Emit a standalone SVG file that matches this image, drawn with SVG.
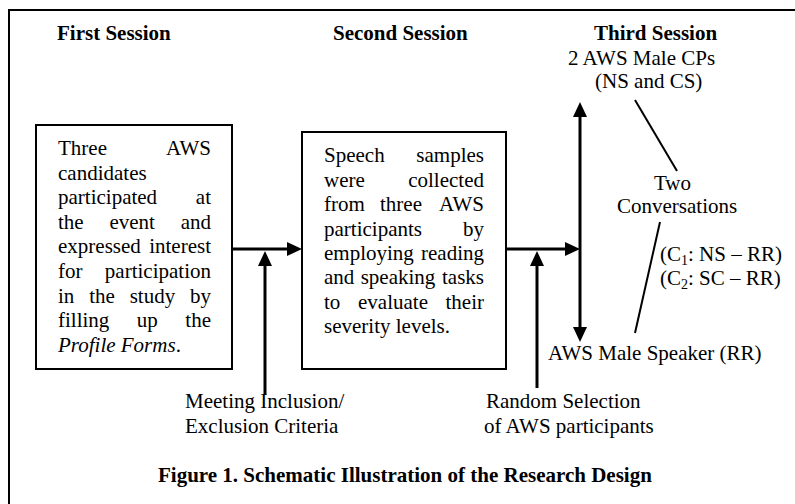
<svg xmlns="http://www.w3.org/2000/svg" width="795" height="504" viewBox="0 0 795 504">
  <style>
    text { font-family: "Liberation Serif", "Times New Roman", serif; font-size: 21px; fill: #000; }
    .h { font-weight: bold; }
    .it { font-style: italic; }
    .e { text-anchor: end; }
    .m { text-anchor: middle; }
    .box { fill: #fff; stroke: #000; stroke-width: 2; }
    .arrow { fill: none; stroke: #000; stroke-width: 3; }
    .link { fill: none; stroke: #000; stroke-width: 2; }
    .sub { font-size: 14px; }
  </style>
  <defs>
    <marker id="head" markerUnits="userSpaceOnUse" markerWidth="16" markerHeight="16" refX="0" refY="7" orient="auto-start-reverse" viewBox="0 0 16 14">
      <path d="M0,0 L15,7 L0,14 Z" fill="#000"/>
    </marker>
  </defs>

  <!-- outer frame -->
  <rect x="9" y="10" width="800" height="510" fill="#fff" stroke="#000" stroke-width="2"/>

  <!-- session headings -->
  <g id="headings">
    <text class="h" x="57" y="40">First Session</text>
    <text class="h" x="333" y="40">Second Session</text>
    <text class="h" x="594" y="40">Third Session</text>
  </g>

  <!-- first session box -->
  <g id="session1">
    <rect class="box" x="36" y="125" width="196" height="244"/>
    <text x="58" y="155">Three</text><text class="e" x="211" y="155">AWS</text>
    <text x="58" y="179.6">candidates</text>
    <text x="58" y="204.2">participated</text><text class="e" x="211" y="204.2">at</text>
    <text x="58" y="228.8">the</text><text class="m" x="132.2" y="228.8">event</text><text class="e" x="211" y="228.8">and</text>
    <text x="58" y="253.4">expressed</text><text class="e" x="211" y="253.4">interest</text>
    <text x="58" y="278">for</text><text class="e" x="211" y="278">participation</text>
    <text x="58" y="302.6">in</text><text class="m" x="102" y="302.6">the</text><text class="m" x="152.4" y="302.6">study</text><text class="e" x="211" y="302.6">by</text>
    <text x="58" y="327.2">filling</text><text class="m" x="147.3" y="327.2">up</text><text class="e" x="211" y="327.2">the</text>
    <text x="58" y="351.8"><tspan class="it">Profile Forms</tspan>.</text>
  </g>

  <!-- second session box -->
  <g id="session2">
    <rect class="box" x="302" y="132" width="204" height="237"/>
    <text x="324" y="162.3">Speech</text><text class="e" x="484" y="162.3">samples</text>
    <text x="324" y="186.7">were</text><text class="e" x="484" y="186.7">collected</text>
    <text x="324" y="211.1">from</text><text class="m" x="401" y="211.1">three</text><text class="e" x="484" y="211.1">AWS</text>
    <text x="324" y="235.5">participants</text><text class="e" x="484" y="235.5">by</text>
    <text x="324" y="259.9">employing</text><text class="e" x="484" y="259.9">reading</text>
    <text x="324" y="284.3">and</text><text class="m" x="398" y="284.3">speaking</text><text class="e" x="484" y="284.3">tasks</text>
    <text x="324" y="308.7">to</text><text class="m" x="393" y="308.7">evaluate</text><text class="e" x="484" y="308.7">their</text>
    <text x="324" y="333.1">severity levels.</text>
  </g>

  <!-- third session participants -->
  <g id="cps">
    <text x="568" y="65">2 AWS Male CPs</text>
    <text x="595" y="88">(NS and CS)</text>
  </g>
  <g id="conversations">
    <text x="654" y="190">Two</text>
    <text x="617" y="213">Conversations</text>
    <text x="660" y="261">(C<tspan class="sub" dy="4">1</tspan><tspan dy="-4">: NS – RR)</tspan></text>
    <text x="660" y="285">(C<tspan class="sub" dy="4">2</tspan><tspan dy="-4">: SC – RR)</tspan></text>
  </g>
  <g id="speaker">
    <text x="548" y="360">AWS Male Speaker (RR)</text>
  </g>

  <!-- selection criteria -->
  <g id="criteria">
    <text x="185" y="408">Meeting Inclusion/</text>
    <text x="185" y="433">Exclusion Criteria</text>
  </g>
  <g id="random">
    <text x="486" y="408">Random Selection</text>
    <text x="484" y="433">of AWS participants</text>
  </g>

  <!-- connectors -->
  <g id="connectors">
    <path class="arrow" d="M232,249 H287" marker-end="url(#head)"/>
    <path class="arrow" d="M506,249 H565" marker-end="url(#head)"/>
    <path class="arrow" d="M580,117 V327" marker-start="url(#head)" marker-end="url(#head)"/>
    <path class="arrow" d="M265,395 V266" marker-end="url(#head)"/>
    <path class="arrow" d="M537,388 V266" marker-end="url(#head)"/>
    <path class="link" d="M635,100 L677,171"/>
    <path class="link" d="M660,222 L635,333"/>
  </g>

  <!-- caption -->
  <text class="h" x="158" y="482">Figure 1. Schematic Illustration of the Research Design</text>
</svg>
